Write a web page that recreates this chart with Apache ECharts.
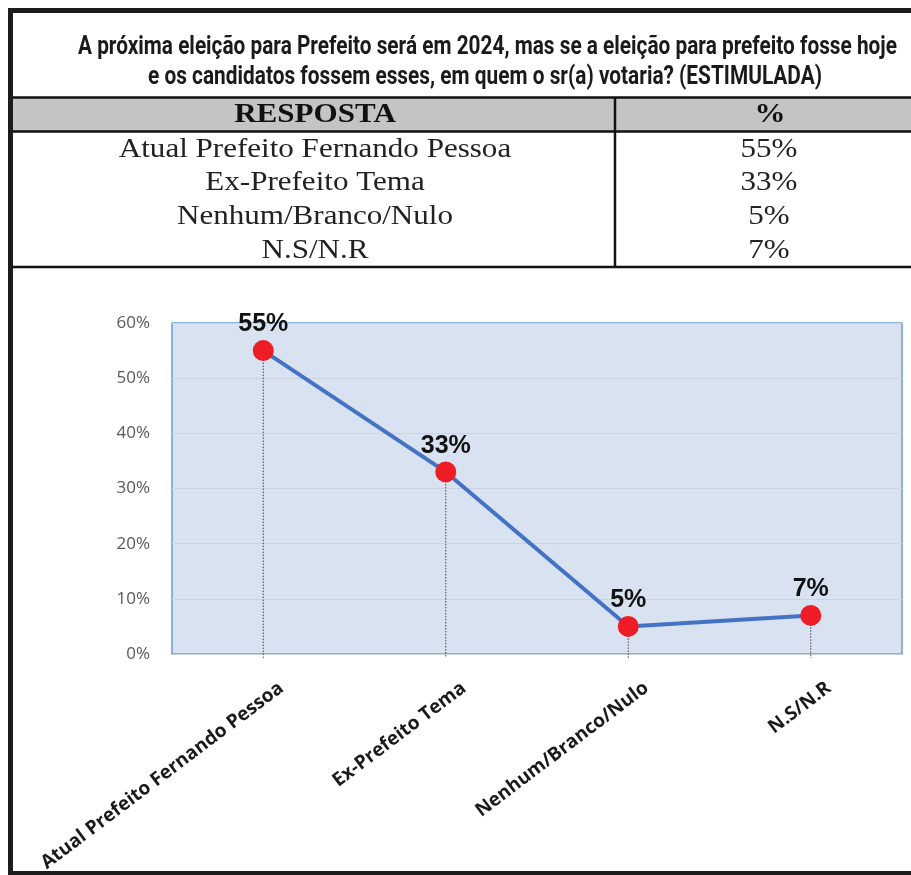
<!DOCTYPE html>
<html>
<head>
<meta charset="utf-8">
<script src="https://cdn.jsdelivr.net/npm/echarts@6/dist/echarts.min.js"></script>
<style>html,body{margin:0;padding:0;background:#fff;}#c{width:911px;height:875px;}</style>
</head>
<body>
<div id="c"></div>
<script>
const titleLines = [
  'A próxima eleição para Prefeito será em 2024, mas se a eleição para prefeito fosse hoje',
  'e os candidatos fossem esses, em quem o sr(a) votaria? (ESTIMULADA)'
];
const tableHeader = ['RESPOSTA', '%'];
const categories = ['Atual Prefeito Fernando Pessoa', 'Ex-Prefeito Tema', 'Nenhum/Branco/Nulo', 'N.S/N.R'];
const values = [55, 33, 5, 7];
const yMin = 0, yMax = 60, yStep = 10;

const chart = echarts.init(document.getElementById('c'), null, {renderer: 'canvas'});

const mctx = document.createElement('canvas').getContext('2d');
function fitScale(text, font, target) {
  mctx.font = font;
  return target / mctx.measureText(text).width;
}

const graphics = [];
// outer frame
graphics.push({type: 'rect', shape: {x: 10.5, y: 10.5, width: 1000, height: 863}, style: {fill: null, stroke: '#1c1c1c', lineWidth: 5}, z: 100});
// title
const titleFont = 'bold 25px Roboto';
const titleWidths = [819, 674];
const titleCx = [487.5, 485];
titleLines.forEach((t, i) => {
  graphics.push({type: 'text', x: titleCx[i], y: 48 + i * 30, scaleX: fitScale(t, titleFont, titleWidths[i]),
    style: {text: t, x: 0, y: 0, align: 'center', verticalAlign: 'middle', font: titleFont, fill: '#1a1a1a'}});
});
// table
const tTop = 97.5, hBot = 131.5, tBot = 267, colX = 615;
const tsx = 1.15;
graphics.push({type: 'rect', shape: {x: 13, y: tTop, width: 900, height: hBot - tTop}, style: {fill: '#c4c4c4'}});
graphics.push({type: 'line', shape: {x1: 10, y1: tTop, x2: 911, y2: tTop}, style: {stroke: '#111', lineWidth: 2.5}});
graphics.push({type: 'line', shape: {x1: 10, y1: hBot, x2: 911, y2: hBot}, style: {stroke: '#111', lineWidth: 2.5}});
graphics.push({type: 'line', shape: {x1: 10, y1: tBot, x2: 911, y2: tBot}, style: {stroke: '#111', lineWidth: 2.5}});
graphics.push({type: 'line', shape: {x1: colX, y1: tTop, x2: colX, y2: tBot}, style: {stroke: '#111', lineWidth: 2.5}});
graphics.push({type: 'text', x: 315, y: 115, scaleX: tsx,
  style: {text: tableHeader[0], align: 'center', verticalAlign: 'middle', font: 'bold 27px "Liberation Serif"', fill: '#111'}});
graphics.push({type: 'text', x: 770, y: 115, scaleX: tsx,
  style: {text: tableHeader[1], align: 'center', verticalAlign: 'middle', font: 'bold 27px "Liberation Serif"', fill: '#111'}});
categories.forEach((c, i) => {
  const y = 149.5 + i * 33.7;
  graphics.push({type: 'text', x: 315, y: y, scaleX: tsx,
    style: {text: c, align: 'center', verticalAlign: 'middle', font: '27px "Liberation Serif"', fill: '#222'}});
  graphics.push({type: 'text', x: 769, y: y, scaleX: tsx,
    style: {text: values[i] + '%', align: 'center', verticalAlign: 'middle', font: '27px "Liberation Serif"', fill: '#222'}});
});

chart.setOption({
  animation: false,
  graphic: graphics,
  grid: {left: 172, right: 9, top: 323, bottom: 221, containLabel: false, outerBoundsMode: 'none',
    show: true, backgroundColor: '#d8e2f1', borderColor: '#6a9fd8', borderWidth: 1.5},
  xAxis: {
    type: 'category', data: categories, boundaryGap: true,
    axisLine: {show: false}, axisTick: {show: false},
    axisLabel: {rotate: 37, interval: 0, margin: 8, lineHeight: 60, formatter: v => '\n' + v,
      fontFamily: 'Open Sans', fontWeight: 'bold', fontSize: 19, color: '#1a1a1a'}
  },
  yAxis: {
    type: 'value', min: yMin, max: yMax, interval: yStep,
    axisLine: {show: false}, axisTick: {show: false},
    axisLabel: {formatter: '{value}%', fontFamily: 'Open Sans', fontSize: 17, color: '#595959', margin: 22},
    splitLine: {lineStyle: {color: '#cdd3dc', width: 1}}
  },
  series: [
    {
      type: 'custom', z: 1,
      data: values.map((v, i) => [i, v]),
      renderItem: function (params, api) {
        const p = api.coord([api.value(0), api.value(1)]);
        const b = api.coord([api.value(0), 0]);
        return {type: 'line', shape: {x1: p[0], y1: p[1] + 12, x2: b[0], y2: b[1] + 4},
          style: {stroke: '#444', lineWidth: 1, lineDash: [1.5, 1.5]}};
      }
    },
    {
      type: 'line', z: 3, data: values,
      lineStyle: {color: '#4472c4', width: 4},
      symbol: 'circle', symbolSize: 21,
      itemStyle: {color: '#ee1c25'},
      label: {show: true, position: 'top', distance: 3, formatter: '{c}%', fontFamily: 'Liberation Sans', fontWeight: 'bold', fontSize: 25, color: '#111'}
    }
  ]
});
</script>
</body>
</html>
